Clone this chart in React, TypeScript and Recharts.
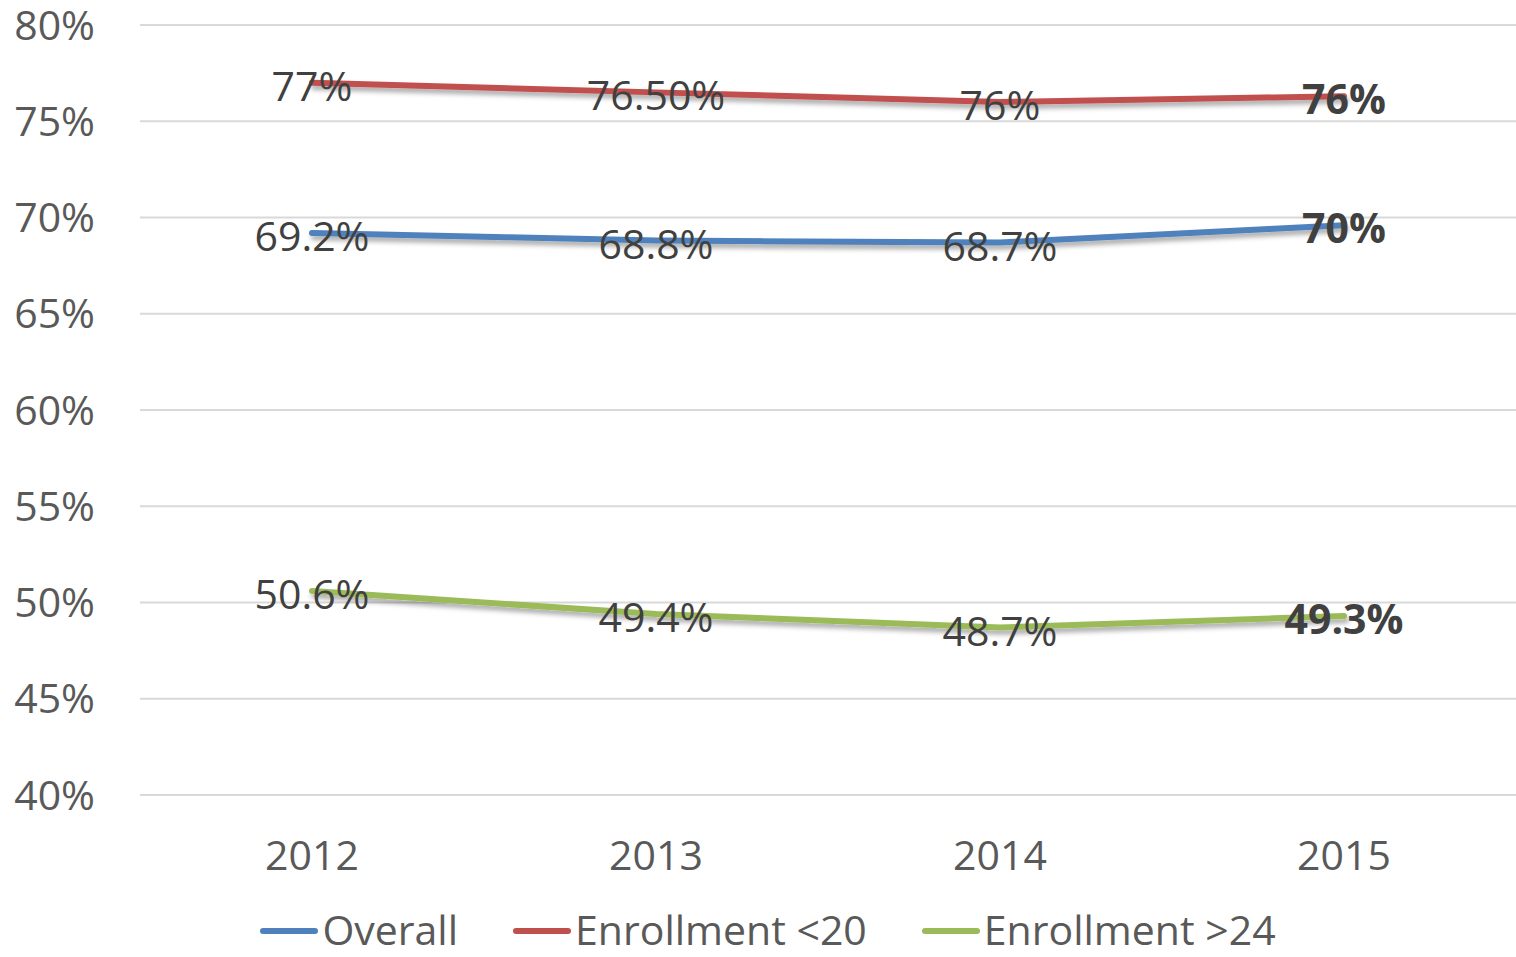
import React from 'react';
import { LineChart, Line, XAxis, YAxis, CartesianGrid, Legend } from 'recharts';

const years = ['2012', '2013', '2014', '2015'];
const overall = [69.2, 68.8, 68.7, 69.6];
const under20 = [77.0, 76.5, 76.0, 76.3];
const over24 = [50.6, 49.4, 48.7, 49.3];
const overallLabels = ['69.2%', '68.8%', '68.7%', '70%'];
const under20Labels = ['77%', '76.50%', '76%', '76%'];
const over24Labels = ['50.6%', '49.4%', '48.7%', '49.3%'];
const yTicks = [40, 45, 50, 55, 60, 65, 70, 75, 80];

const seriesNames = ['Overall', 'Enrollment <20', 'Enrollment >24'];
const colors = ['#4F81BD', '#C0504D', '#9BBB59'];

const data = years.map((y, i) => ({
  year: y,
  overall: overall[i],
  under20: under20[i],
  over24: over24[i],
}));

const FONT = '"Open Sans", sans-serif';

const makeLabel = (labels: string[]) => (props: any) => {
  const { x, y, index } = props;
  const last = index === labels.length - 1;
  return (
    <text
      x={x}
      y={y + 2}
      textAnchor="middle"
      dominantBaseline="central"
      fontFamily={FONT}
      fontSize={41}
      fontWeight={last ? 700 : 400}
      fill="#404040"
    >
      {labels[index]}
    </text>
  );
};

const LegendContent = () => (
  <div
    style={{
      height: 62,
      display: 'flex',
      justifyContent: 'center',
      alignItems: 'flex-end',
      paddingLeft: 19,
      boxSizing: 'border-box',
      fontFamily: FONT,
      fontSize: 41,
      lineHeight: 'normal',
      color: '#595959',
      gap: 54,
    }}
  >
    {seriesNames.map((n, i) => (
      <div key={n} style={{ display: 'flex', alignItems: 'center', whiteSpace: 'nowrap' }}>
        <svg width={60} height={10} style={{ marginRight: 3, marginTop: 4 }}>
          <line x1={4} y1={5} x2={56} y2={5} stroke={colors[i]} strokeWidth={6} strokeLinecap="round" />
        </svg>
        <span>{n}</span>
      </div>
    ))}
  </div>
);

export default function App() {
  return (
    <div style={{ position: 'absolute', left: 0, top: 0, width: 1516, height: 957, background: '#fff' }}>
      <svg width={0} height={0} style={{ position: 'absolute' }}>
        <defs>
          <filter id="shadow" x="-10%" y="-50%" width="120%" height="300%">
            <feDropShadow dx={2} dy={4} stdDeviation={2.5} floodColor="#000" floodOpacity={0.35} />
          </filter>
        </defs>
      </svg>
      <LineChart width={1516} height={957} data={data} margin={{ top: 25, right: 0, bottom: 0, left: 0 }}>
        <CartesianGrid horizontal vertical={false} stroke="#D9D9D9" strokeWidth={2} />
        <XAxis
          dataKey="year"
          axisLine={false}
          tickLine={false}
          tickSize={0}
          tickMargin={46}
          height={100}
          padding={{ left: 172, right: 172 }}
          tick={{ fontFamily: FONT, fontSize: 41, fill: '#595959' }}
        />
        <YAxis
          domain={[40, 80]}
          ticks={yTicks}
          interval={0}
          axisLine={false}
          tickLine={false}
          tickSize={0}
          tickMargin={45}
          width={140}
          tickFormatter={(v: number) => `${v}%`}
          tick={{ fontFamily: FONT, fontSize: 41, fill: '#595959' }}
        />
        <Legend verticalAlign="bottom" content={<LegendContent />} />
        <Line
          dataKey="overall"
          name={seriesNames[0]}
          stroke={colors[0]}
          strokeWidth={6}
          strokeLinecap="round"
          dot={false}
          activeDot={false}
          isAnimationActive={false}
          filter="url(#shadow)"
          label={makeLabel(overallLabels)}
        />
        <Line
          dataKey="under20"
          name={seriesNames[1]}
          stroke={colors[1]}
          strokeWidth={6}
          strokeLinecap="round"
          dot={false}
          activeDot={false}
          isAnimationActive={false}
          filter="url(#shadow)"
          label={makeLabel(under20Labels)}
        />
        <Line
          dataKey="over24"
          name={seriesNames[2]}
          stroke={colors[2]}
          strokeWidth={6}
          strokeLinecap="round"
          dot={false}
          activeDot={false}
          isAnimationActive={false}
          filter="url(#shadow)"
          label={makeLabel(over24Labels)}
        />
      </LineChart>
    </div>
  );
}
